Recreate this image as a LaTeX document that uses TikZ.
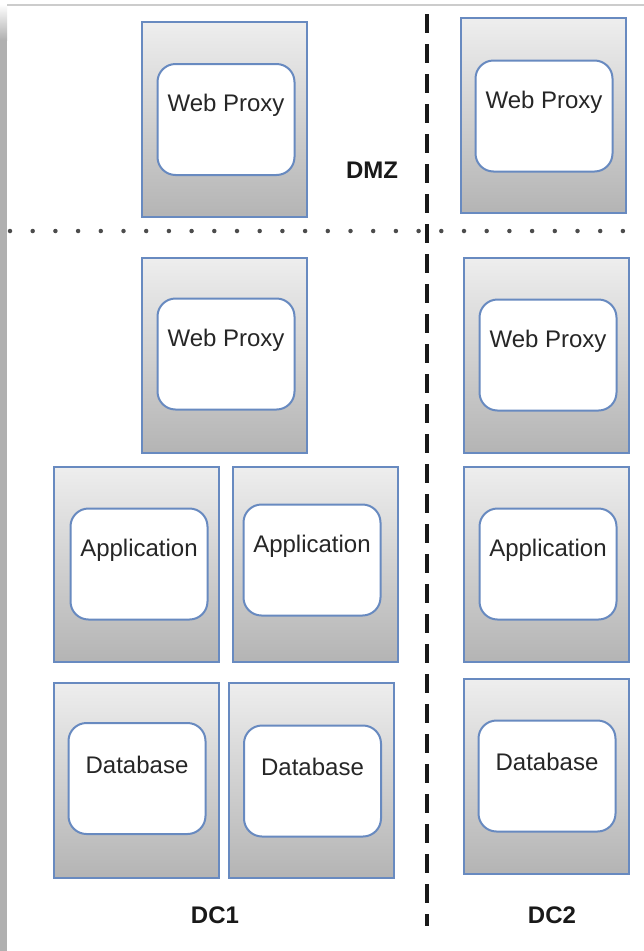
\documentclass[tikz,border=0pt]{standalone}
\usepackage{fontspec}
\setmainfont{Liberation Sans}
\definecolor{boxblue}{RGB}{104,138,192}
\definecolor{topgray}{RGB}{238,238,238}
\definecolor{botgray}{RGB}{180,180,180}
\definecolor{framegray}{RGB}{204,204,204}
\definecolor{stripgray}{RGB}{176,176,176}
\tikzset{
  outerbox/.style={draw=boxblue, line width=2pt, top color=topgray, bottom color=botgray,
    minimum width=165pt, minimum height=195pt, inner sep=0pt},
  innerbox/.style={draw=boxblue, line width=2pt, fill=white, rounded corners=18pt,
    minimum width=137pt, minimum height=111pt, inner sep=0pt},
  boxtext/.style={font=\fontsize{24}{28}\selectfont, text=black!85, inner sep=0pt},
  zonetext/.style={font=\fontsize{24}{28}\selectfont\bfseries, text=black!90},
  sepdash/.style={line width=3.5pt, dash pattern=on 19pt off 11pt, draw=black!90},
  sepdots/.style={line width=4.5pt, line cap=round, dash pattern=on 0pt off 22.7pt, draw=black!70},
}
\newcommand\serverbox[6]{%
  \node[outerbox] (#1) at (#2,#3) {};
  \node[innerbox, label={[boxtext, yshift=14pt]center:#6}] (#1in) at ([shift={(#4,#5)}]#1.center) {};
}
\begin{document}
\begin{tikzpicture}[x=1pt,y=-1pt]
\useasboundingbox[fill=white] (0,0) rectangle (644,951);
% page frame shadow
\fill[stripgray] (0,40) rectangle (7,951);
\shade[top color=white, bottom color=stripgray] (0,4) rectangle (7,40);
\draw[framegray, line width=2pt] (7,5) -- (644,5);

% zone separators
\coordinate (dtop) at (427,14);
\coordinate (dbot) at (427,926);
\coordinate (dotl) at (10,231);
\coordinate (dotr) at (644,231);
\draw[sepdots] (dotl) -- (dotr);
\draw[sepdash] (dtop) -- (dbot);

% servers
\serverbox{dmza}{224}{119.5}{2}{0}{Web Proxy}
\serverbox{dmzb}{543}{115.5}{1}{0.5}{Web Proxy}
\serverbox{wpa}{224}{355}{2}{-1}{Web Proxy}
\serverbox{wpb}{546.5}{355}{1.5}{0}{Web Proxy}
\serverbox{appa}{136.5}{564}{2.5}{0}{Application}
\serverbox{appb}{315}{564}{-3}{-4}{Application}
\serverbox{appc}{546.5}{564}{1.5}{0}{Application}
\serverbox{dba}{136.5}{780}{0.5}{-1.5}{Database}
\serverbox{dbb}{311.5}{780}{1}{1}{Database}
\serverbox{dbc}{546.5}{776.5}{0.5}{-0.5}{Database}

% zone labels
\node[zonetext] (dmz) at (372,170) {DMZ};
\node[zonetext] (dc1) at (215,915) {DC1};
\node[zonetext] (dc2) at (552,915) {DC2};
\end{tikzpicture}
\end{document}
